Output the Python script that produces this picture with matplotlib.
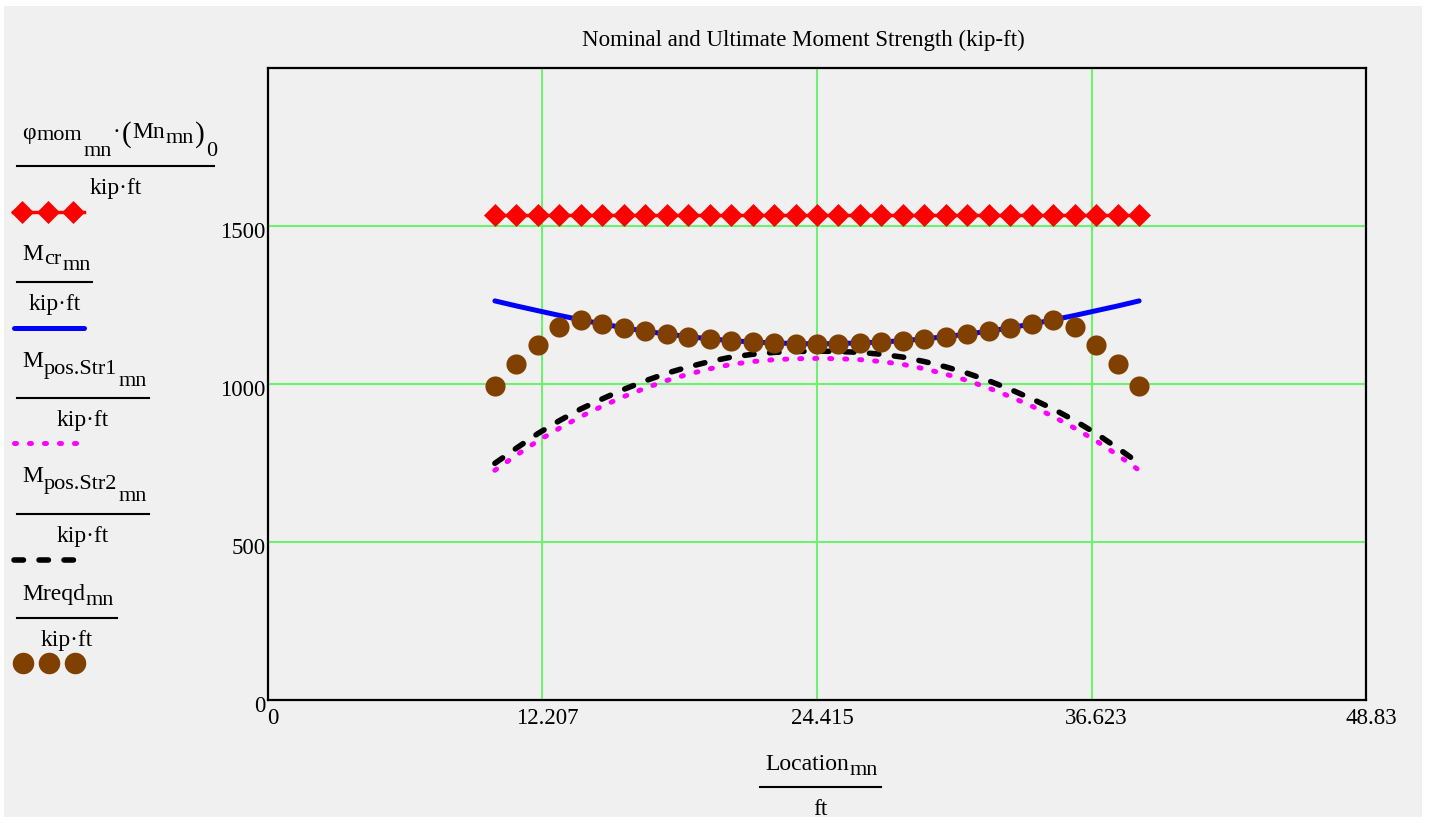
import matplotlib
matplotlib.use("Agg")
import matplotlib.pyplot as plt
from matplotlib.lines import Line2D
from matplotlib.patches import Rectangle
from matplotlib.transforms import ScaledTranslation

plt.rcParams["font.family"] = ["Liberation Serif", "DejaVu Serif"]

W, H = 1429, 823
FS = 16.5      # tick labels, title
LFS = 17       # legend main text
SFS = 16       # legend subscripts

# ── data (kip-ft vs ft) ──────────────────────────────────────────────────────
location = [10.09, 11.05, 12.00, 12.96, 13.91, 14.87, 15.82, 16.78, 17.73, 18.69,
            19.64, 20.60, 21.55, 22.51, 23.46, 24.42, 25.37, 26.33, 27.28, 28.24,
            29.19, 30.15, 31.10, 32.06, 33.01, 33.97, 34.92, 35.88, 36.83, 37.79,
            38.74]
phi_mn = [1535] * 31
m_cr = [1263, 1247, 1232, 1217, 1203, 1190, 1178, 1167, 1158, 1150, 1143, 1137,
        1133, 1130, 1128, 1127, 1128, 1130, 1133, 1137, 1143, 1150, 1158, 1167,
        1178, 1190, 1203, 1217, 1232, 1247, 1263]
m_str1 = [727, 775, 820, 860, 897, 930, 960, 987, 1011, 1031, 1048, 1062, 1071,
          1077, 1080, 1081, 1080, 1077, 1071, 1062, 1048, 1031, 1011, 987, 960,
          930, 897, 860, 820, 775, 727]
m_str2 = [749, 797, 843, 884, 921, 953, 983, 1010, 1034, 1054, 1071, 1085, 1094,
          1100, 1103, 1104, 1103, 1100, 1094, 1085, 1071, 1054, 1034, 1010, 983,
          953, 921, 884, 843, 797, 749]
m_reqd = [995, 1064, 1122, 1181, 1203, 1190, 1178, 1167, 1158, 1150, 1143, 1137,
          1133, 1130, 1128, 1127, 1128, 1130, 1133, 1137, 1143, 1150, 1158, 1167,
          1178, 1190, 1203, 1181, 1122, 1064, 995]

x_ticks = [0, 12.207, 24.415, 36.623, 48.83]
x_ticklabels = ["0", "12.207", "24.415", "36.623", "48.83"]
y_ticks = [0, 500, 1000, 1500]

BG = "#f0f0f0"
GRID = "#70f070"
BROWN = "#804000"
dot_style = (0, (0.4, 2.6))
dash_style = (0, (1.7, 2.8))

fig = plt.figure(figsize=(W / 100, H / 100), dpi=100)
fig.patch.set_facecolor("white")
fig.add_artist(Rectangle((4 / W, 1 - 817 / H), (1422 - 4) / W, (817 - 6) / H,
                         transform=fig.transFigure, facecolor=BG, edgecolor="none",
                         zorder=-10))
renderer = fig.canvas.get_renderer()


def fx(px):
    return px / W


def fy(py):
    return 1 - py / H


def text_runs(x0, base, runs, gap=1.0):
    """Lay out text pieces left to right; runs = (text, baseline shift px, size)."""
    x = x0
    for txt, dy, size in runs:
        t = fig.text(fx(x), fy(base + dy), txt, ha="left", va="baseline", fontsize=size)
        x += t.get_window_extent(renderer).width + gap
    return x


ax = fig.add_axes([fx(268), fy(700), (1366 - 268) / W, (700 - 68) / H])
ax.set_facecolor(BG)

ax.plot(location, phi_mn, color="red", lw=2.5, marker="D", ms=11, mew=0.5, zorder=5)
ax.plot(location, m_cr, color="blue", lw=3.6, solid_capstyle="round", zorder=4)
ax.plot(location, m_str1, color="magenta", lw=3.6, linestyle=dot_style,
        dash_capstyle="round", zorder=3)
ax.plot(location, m_str2, color="black", lw=4, linestyle=dash_style,
        dash_capstyle="round", zorder=3)
ax.plot(location, m_reqd, linestyle="none", marker="o", ms=14.5, mew=0,
        color=BROWN, zorder=6)

ax.set_xlim(0, 48.83)
ax.set_ylim(0, 2000)
ax.set_xticks(x_ticks)
ax.set_xticklabels(x_ticklabels)
ax.set_yticks(y_ticks)
ax.tick_params(length=0, labelsize=FS, colors="black")
ax.tick_params(axis="x", pad=6)
ax.tick_params(axis="y", pad=2)
for lab in ax.get_xticklabels():
    lab.set_transform(lab.get_transform() + ScaledTranslation(5 / 100, 0, fig.dpi_scale_trans))
for lab in ax.get_yticklabels():
    lab.set_transform(lab.get_transform() + ScaledTranslation(0, -4 / 100, fig.dpi_scale_trans))

for xv in x_ticks[1:-1]:
    ax.axvline(xv, color=GRID, lw=1.5, zorder=1)
for yv in y_ticks[1:]:
    ax.axhline(yv, color=GRID, lw=1.5, zorder=1)
for s in ax.spines.values():
    s.set_linewidth(1.6)
    s.set_color("black")

# title
fig.text(fx(803), fy(40), "Nominal and Ultimate Moment Strength (kip-ft)",
         ha="center", va="center", fontsize=FS)

tf = fig.transFigure


def frac_bar(x1, x2, y):
    fig.add_artist(Line2D([fx(x1), fx(x2)], [fy(y), fy(y)], color="black",
                          lw=1.5, transform=tf))


# x-axis label as fraction
text_runs(765, 770, [("Location", 0, LFS), ("mn", 5, SFS)])
frac_bar(760, 881, 787)
fig.text(fx(820), fy(815), "ft", ha="center", va="baseline", fontsize=LFS)

# legend on the left: (runs, main baseline, bar y, bar right end)
legend_items = [
    ([("φ", 0, LFS), ("mom", 2, SFS), ("mn", 17, SFS), ("·", 0, LFS),
      ("(", 3, 21), ("Mn", 0, LFS), ("mn", 4.5, SFS), (")", 3, 21), ("0", 17, SFS)],
     138.5, 165.7, 214),
    ([("M", 0, LFS), ("cr", 3, SFS), ("mn", 10, SFS)], 260.5, 281.7, 92),
    ([("M", 0, LFS), ("pos.Str1", 7, SFS), ("mn", 19, SFS)], 367, 397.7, 149),
    ([("M", 0, LFS), ("pos.Str2", 7, SFS), ("mn", 19, SFS)], 482, 514, 149),
    ([("Mreqd", 0, LFS), ("mn", 5, SFS)], 600, 617.7, 117),
]
for runs, base, bar_y, bar_r in legend_items:
    text_runs(22, base, runs)
    frac_bar(17, bar_r, bar_y)
    fig.text(fx((17 + bar_r) / 2), fy(bar_y + 28), "kip·ft", ha="center",
             va="baseline", fontsize=LFS)

fig.add_artist(Line2D([fx(13), fx(84)], [fy(211.7)] * 2, color="red", lw=2.5, transform=tf))
fig.add_artist(Line2D([fx(22), fx(48), fx(73)], [fy(211.7)] * 3, color="red",
                      linestyle="none", marker="D", ms=11, mew=0.5, transform=tf))
fig.add_artist(Line2D([fx(14), fx(84)], [fy(327.7)] * 2, color="blue", lw=3.6,
                      solid_capstyle="round", transform=tf))
fig.add_artist(Line2D([fx(14), fx(80)], [fy(443.3)] * 2, color="magenta", lw=3.6,
                      linestyle=dot_style, dash_capstyle="round", transform=tf))
fig.add_artist(Line2D([fx(14), fx(80)], [fy(560)] * 2, color="black", lw=4,
                      linestyle=dash_style, dash_capstyle="round", transform=tf))
fig.add_artist(Line2D([fx(23), fx(49), fx(75)], [fy(662.7)] * 3, color=BROWN,
                      linestyle="none", marker="o", ms=15.5, mew=0, transform=tf))

fig.savefig("out.png", dpi=100, facecolor=fig.get_facecolor())
